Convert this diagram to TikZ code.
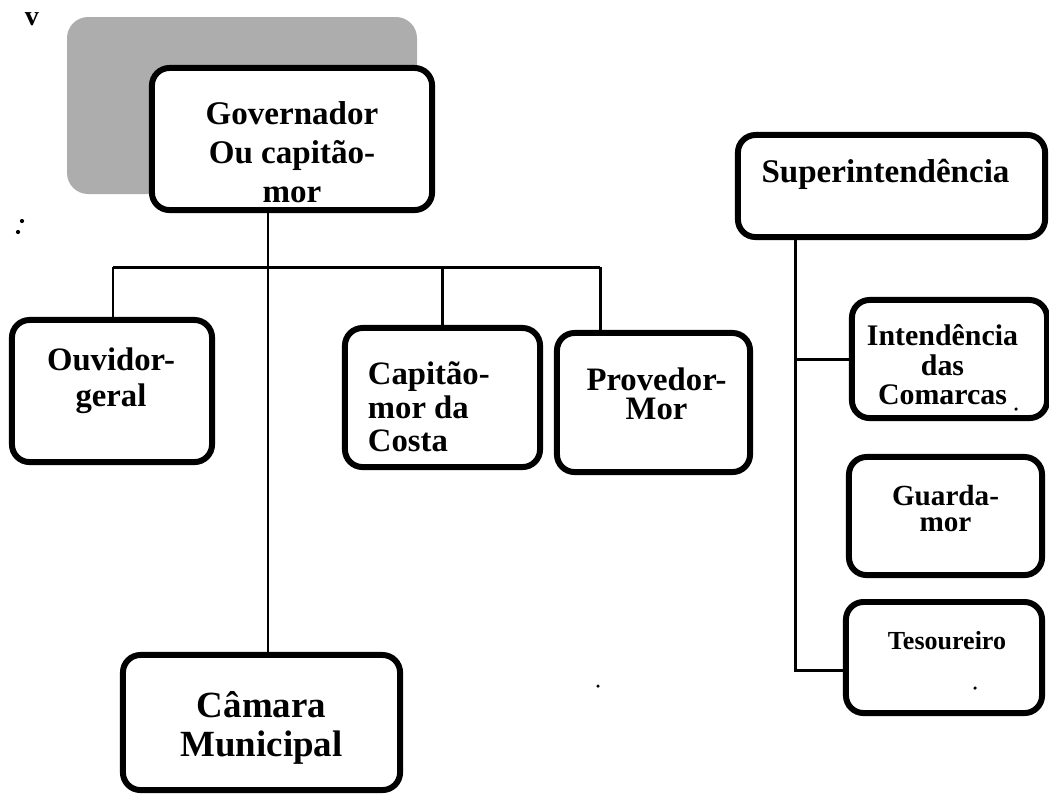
\documentclass[tikz,border=0pt]{standalone}
\usepackage{fontspec}
\setmainfont{Liberation Serif}
\usepackage{tikz}

\newcommand{\bfsize}[2]{\fontsize{#1}{#2}\selectfont\bfseries}

\begin{document}
\begin{tikzpicture}[x=0.01cm, y=-0.01cm,
	orgbox/.style={draw, line width=1.7pt, rounded corners=5pt, fill=white, inner sep=0pt},
	txt/.style={align=center, inner sep=0pt, minimum size=0pt, anchor=base},
	wire/.style={line width=0.85pt}]
	\useasboundingbox (0,0) rectangle (1049,799);
	\node[txt, font=\bfsize{8}{9}] (mark) at (32,25) {v};
	\fill[black!32, rounded corners=6pt] (67,17) rectangle (417,194);
	\node[orgbox, minimum width=2.8cm, minimum height=1.42cm, path picture={
		\node[txt, font=\bfsize{9.4}{11.2}] at ([shift={(0,135)}]path picture bounding box.north) {Governador\\Ou capitão-\\mor};}] (gov) at (292,139) {};
	\node[orgbox, minimum width=3.07cm, minimum height=1.02cm, path picture={
		\node[txt, font=\bfsize{9.4}{10.8}] at ([shift={(-6,48)}]path picture bounding box.north) {Superintendência};}] (sup) at (891.5,186) {};
		\node[orgbox, minimum width=2cm, minimum height=1.42cm, path picture={
			\node[txt, font=\bfsize{9.3}{10.5}] at ([shift={(-1,87)}]path picture bounding box.north) {Ouvidor-\\geral};}] (ouv) at (112,391) {};
		\node[orgbox, minimum width=1.95cm, minimum height=1.39cm, path picture={
			\node[txt, align=left, anchor=base west, font=\bfsize{9.3}{9.6}] at ([shift={(20,124)}]path picture bounding box.north west) {Capitão-\\mor da\\Costa};}] (cap) at (442.5,397.5) {};
		\node[orgbox, minimum width=1.93cm, minimum height=1.39cm, path picture={
			\node[txt, font=\bfsize{9.3}{8.5}] at ([shift={(3,87)}]path picture bounding box.north) {Provedor-\\Mor};}] (prov) at (653.5,402.5) {};
		\node[orgbox, minimum width=2.77cm, minimum height=1.35cm, path picture={
			\node[txt, font=\bfsize{10.5}{11.1}] at ([shift={(0,102)}]path picture bounding box.north) {Câmara\\Municipal};}] (cam) at (261.5,722.5) {};
			\node[orgbox, minimum width=1.95cm, minimum height=1.18cm, path picture={
				\node[txt, font=\bfsize{8.5}{8.5}] at ([shift={(-7,105)}]path picture bounding box.north) {Intendência\\das\\Comarcas};}] (int) at (949.5,359) {};
			\node[orgbox, minimum width=1.93cm, minimum height=1.18cm, path picture={
				\node[txt, font=\bfsize{8.3}{7.6}] at ([shift={(0,75)}]path picture bounding box.north) {Guarda-\\mor};}] (guard) at (945.5,516) {};
			\node[orgbox, minimum width=1.96cm, minimum height=1.11cm, path picture={
				\node[txt, font=\bfsize{7.4}{8.5}] at ([shift={(3,48)}]path picture bounding box.north) {Tesoureiro};}] (tes) at (944,657.5) {};
	\coordinate (hub) at (268,267);
	\coordinate (busL) at (113,267);
	\coordinate (busR) at (600,267);
	\coordinate (trunk) at (795,670);
	\draw[wire] (gov.south -| hub) to (cam.north -| hub);
	\draw[wire] (busL) to (busR);
	\draw[wire] (busL) to (busL |- ouv.north);
	\draw[wire] (busL -| cap.north) to (cap.north);
	\draw[wire] (busR) to (busR |- prov.north);
	\draw[wire] (sup.south -| trunk) to (trunk) to (trunk -| tes.west);
	\draw[wire] (trunk |- int.west) to (int.west);
	\fill (22,221) circle (0.6pt) (18,232) circle (0.6pt);
	\fill (1016,409) circle (0.5pt) (598,686) circle (0.5pt) (975,688) circle (0.5pt);
\end{tikzpicture}
\end{document}
